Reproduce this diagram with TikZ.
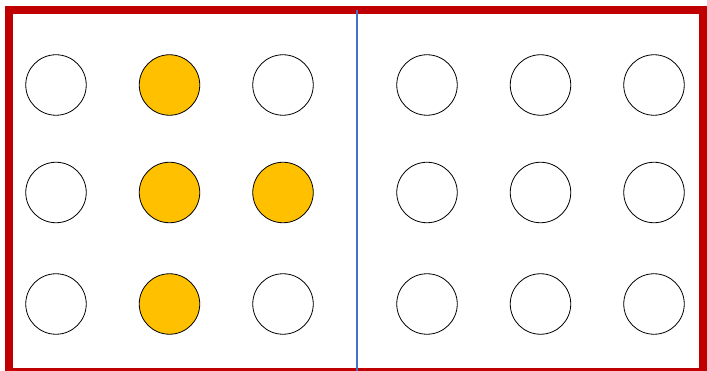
\documentclass[tikz,border=0pt]{standalone}
\definecolor{frame}{HTML}{C00000}
\definecolor{gold}{HTML}{FFC000}
\definecolor{divider}{HTML}{4472C4}
\begin{document}
\begin{tikzpicture}[x=1pt,y=-1pt,
  dot/.style={circle,draw=black,line width=0.8pt,minimum size=60.5pt,inner sep=0pt,fill=white},
  hot/.style={dot,fill=gold}]
\useasboundingbox (0,0) rectangle (707,371);
\clip (0,0) rectangle (707,371);
\draw[frame,line width=8pt] (9,10) rectangle (703,372);
\coordinate (dtop) at (357,10);
\coordinate (dbot) at (357,371);
\draw[divider,line width=2pt] (dtop) -- (dbot);
% left grid
\node[dot] (a1) at (56,85) {};
\node[hot] (a2) at (169.5,85) {};
\node[dot] (a3) at (283,85) {};
\node[dot] (b1) at (56,192.5) {};
\node[hot] (b2) at (169.5,192.5) {};
\node[hot] (b3) at (283,192.5) {};
\node[dot] (c1) at (56,304) {};
\node[hot] (c2) at (169.5,304) {};
\node[dot] (c3) at (283,304) {};
% right grid
\node[dot] (a4) at (427,85) {};
\node[dot] (a5) at (540.5,85) {};
\node[dot] (a6) at (654,85) {};
\node[dot] (b4) at (427,192.5) {};
\node[dot] (b5) at (540.5,192.5) {};
\node[dot] (b6) at (654,192.5) {};
\node[dot] (c4) at (427,304) {};
\node[dot] (c5) at (540.5,304) {};
\node[dot] (c6) at (654,304) {};
\end{tikzpicture}
\end{document}
